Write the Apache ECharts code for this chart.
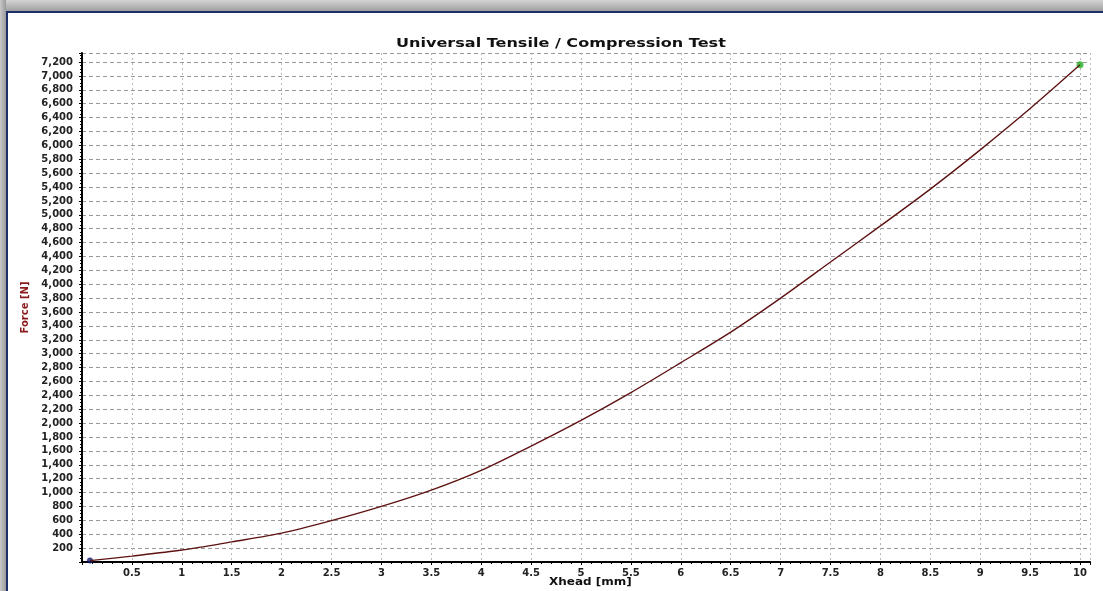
<!DOCTYPE html>
<html>
<head>
<meta charset="utf-8">
<script src="https://cdn.jsdelivr.net/npm/echarts@6/dist/echarts.min.js"></script>
<style>
html,body{margin:0;padding:0;background:#fff;}
#c{width:1103px;height:591px;}
</style>
</head>
<body>
<div id="c"></div>
<script>
const xhead = [0.08, 0.5, 1, 1.5, 2, 2.5, 3, 3.5, 4, 4.5, 5, 5.5, 6, 6.5, 7, 7.5, 8, 8.5, 9, 9.5, 10];
const force = [20, 85, 172, 290, 415, 595, 800, 1035, 1320, 1670, 2040, 2440, 2870, 3310, 3800, 4320, 4840, 5370, 5935, 6530, 7160];
const titleText = 'Universal Tensile / Compression Test';
const xName = 'Xhead [mm]';
const yName = 'Force [N]';

const pts = xhead.map((x, i) => [x, force[i]]);
const n = pts.length;

const chart = echarts.init(document.getElementById('c'), null, {renderer: 'canvas'});
const lblFont = {fontFamily: 'DejaVu Sans', fontSize: 10, fontWeight: 'bold', color: '#222'};

chart.setOption({
  backgroundColor: '#fff',
  animation: false,
  graphic: [
    {type: 'rect', left: 0, top: 0, shape: {width: 1103, height: 11},
     style: {fill: new echarts.graphic.LinearGradient(0, 0, 0, 1, [{offset: 0, color: '#d4d4d4'}, {offset: 1, color: '#a0a0a0'}])}},
    {type: 'rect', left: 0, top: 0, shape: {width: 6, height: 591},
     style: {fill: new echarts.graphic.LinearGradient(0, 0, 1, 0, [{offset: 0, color: '#c8c8c8'}, {offset: 1, color: '#9a9a9a'}])}},
    {type: 'rect', left: 6, top: 11, shape: {width: 1097, height: 2}, style: {fill: '#1c2f6b'}},
    {type: 'rect', left: 6, top: 11, shape: {width: 2, height: 580}, style: {fill: '#1c2f6b'}},
    {type: 'text', x: 396, y: 37, scaleX: 1.235,
     style: {text: titleText, fontFamily: 'DejaVu Sans', fontSize: 13, fontWeight: 'bold', fill: '#111'}},
    {type: 'text', x: 549, y: 577, scaleX: 1.2,
     style: {text: xName, fontFamily: 'DejaVu Sans', fontSize: 10, fontWeight: 'bold', fill: '#111'}}
  ],
  grid: {left: 82, right: 13, top: 53, bottom: 29, containLabel: false},
  xAxis: {
    type: 'value', min: 0, max: 10.1, interval: 0.5,
    axisLine: {show: true, onZero: false, lineStyle: {color: '#000', width: 2}},
    axisTick: {show: true, length: 3, inside: false, lineStyle: {color: '#000'}},
    minorTick: {show: true, splitNumber: 5, length: 2, lineStyle: {color: '#000'}},
    axisLabel: Object.assign({margin: 6, showMaxLabel: false, formatter: v => v === 0 ? '' : String(v)}, lblFont),
    splitLine: {show: true, lineStyle: {color: '#b8b8b8', type: [2, 3], width: 1}}
  },
  yAxis: {
    type: 'value', min: 0, max: 7330, interval: 200,
    name: yName, nameLocation: 'middle', nameGap: 48, nameRotate: 90,
    nameTextStyle: {fontFamily: 'DejaVu Sans', fontSize: 10, fontWeight: 'bold', color: '#8b1a1a'},
    axisLine: {show: true, lineStyle: {color: '#000', width: 2}},
    axisTick: {show: true, length: 3, lineStyle: {color: '#000'}},
    minorTick: {show: true, splitNumber: 4, length: 2, lineStyle: {color: '#000'}},
    axisLabel: Object.assign({margin: 9, showMaxLabel: false,
      formatter: v => v === 0 ? '' : v.toLocaleString('en-US')}, lblFont),
    splitLine: {show: true, lineStyle: {color: '#999', type: [4, 3], width: 1}}
  },
  series: [
    {type: 'line', data: pts, smooth: 0.3, symbol: 'none',
     lineStyle: {color: '#5e1212', width: 1.4}},
    {type: 'scatter', data: [pts[0]], symbolSize: 6, itemStyle: {color: '#111a6e'}},
    {type: 'scatter', data: [pts[n - 1]], symbolSize: 7, itemStyle: {color: '#22b022'}}
  ]
});
</script>
</body>
</html>
